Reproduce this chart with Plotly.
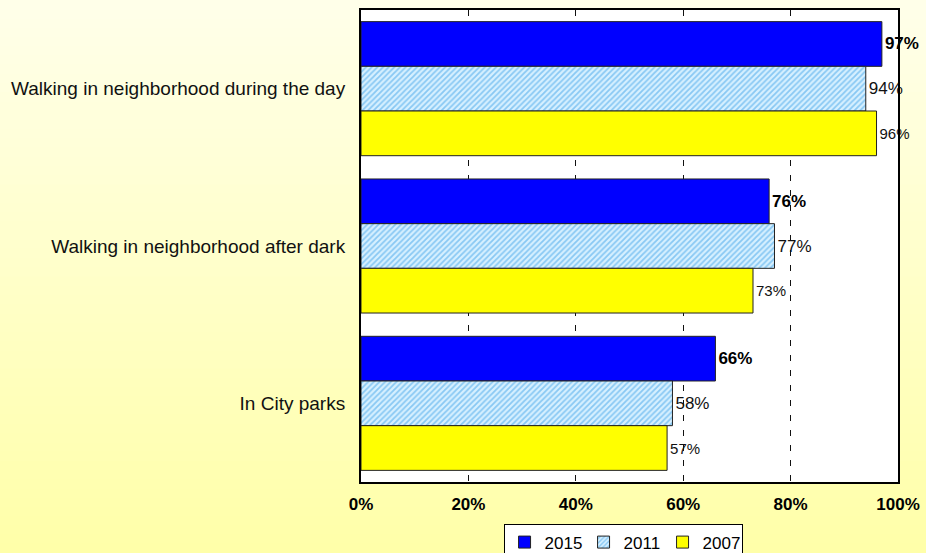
import plotly.graph_objects as go

categories = ["Walking in neighborhood during the day",
              "Walking in neighborhood after dark",
              "In City parks"]
years = ["2015", "2011", "2007"]
v2015 = [97, 76, 66]
v2011 = [94, 77, 58]
v2007 = [96, 73, 57]
x_ticks = [0, 20, 40, 60, 80, 100]
x_tick_labels = ["0%", "20%", "40%", "60%", "80%", "100%"]

W, H = 926, 553
L, R, T, B = 361, 28, 10, 71
plot_h = H - T - B

FONT = "Liberation Sans"

fig = go.Figure()

fig.add_trace(go.Bar(
    name=years[0], y=categories, x=v2015, orientation="h",
    marker=dict(color="#0000FF", line=dict(color="#222222", width=1)),
    text=[f"{v}%" for v in v2015], textposition="outside",
    textfont=dict(family=FONT, size=17, color="black", weight="bold"),
    cliponaxis=False,
))
fig.add_trace(go.Bar(
    name=years[1], y=categories, x=v2011, orientation="h",
    marker=dict(color="#C8ECFF", line=dict(color="#222222", width=1),
                pattern=dict(shape="/", fgcolor="#3AA0E8", bgcolor="#D6F0FF",
                             size=4, solidity=0.45)),
    text=[f"{v}%" for v in v2011], textposition="outside",
    textfont=dict(family=FONT, size=17, color="#111111"),
    cliponaxis=False,
))
fig.add_trace(go.Bar(
    name=years[2], y=categories, x=v2007, orientation="h",
    marker=dict(color="#FFFF00", line=dict(color="#222222", width=1)),
    text=[f"{v}%" for v in v2007], textposition="outside",
    textfont=dict(family=FONT, size=15, color="#111111"),
    cliponaxis=False,
))

# vertical background gradient (paper)
shapes = []
n = 60
top_c = (255, 255, 234)
bot_c = (255, 255, 168)
for i in range(n):
    f = (i + 0.5) / n
    c = tuple(round(top_c[k] + (bot_c[k] - top_c[k]) * f) for k in range(3))
    py0 = H * i / n
    py1 = H * (i + 1) / n + 1
    y0 = (H - B - py0) / plot_h
    y1 = (H - B - py1) / plot_h
    shapes.append(dict(type="rect", xref="paper", yref="paper",
                       x0=-2, x1=2, y0=y1, y1=y0, layer="below",
                       line=dict(width=0), fillcolor="rgb(%d,%d,%d)" % c))
shapes.append(dict(type="rect", xref="paper", yref="paper",
                   x0=0, x1=1, y0=0, y1=1, layer="below",
                   line=dict(width=0), fillcolor="white"))

fig.update_layout(
    width=W, height=H,
    margin=dict(l=L, r=R, t=T, b=B, autoexpand=False),
    barmode="group", bargap=0.148, bargroupgap=0,
    paper_bgcolor="#FFFFD0", plot_bgcolor="white",
    font=dict(family=FONT, color="black"),
    shapes=shapes,
    showlegend=True,
    legend=dict(orientation="h", x=0.488, xanchor="center", y=-0.088, yanchor="top",
                bgcolor="white", bordercolor="black", borderwidth=1,
                font=dict(size=17, family=FONT), itemwidth=30,
                entrywidth=34, tracegroupgap=0),
    xaxis=dict(range=[0, 100], tickvals=x_ticks, ticktext=x_tick_labels,
               tickfont=dict(size=17, weight="bold", family=FONT),
               showgrid=True, gridcolor="#111111", griddash="6px,9px", gridwidth=1,
               showline=True, linecolor="black", linewidth=2, mirror=True,
               zeroline=False, ticks="", ticklabelstandoff=6, fixedrange=True),
    yaxis=dict(autorange="reversed", categoryorder="array", categoryarray=categories,
               tickfont=dict(size=19, family=FONT, color="#111111"),
               showgrid=False, showline=True, linecolor="black", linewidth=2,
               mirror=True, ticks="", ticklabelstandoff=10),
)

fig.write_html("out.html")
